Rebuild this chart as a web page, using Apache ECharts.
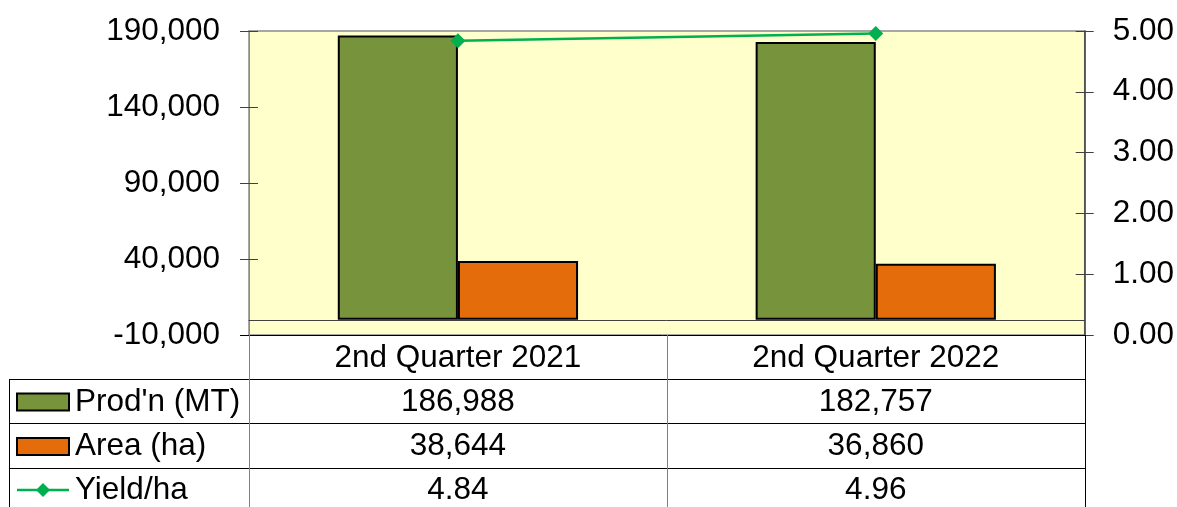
<!DOCTYPE html>
<html>
<head>
<meta charset="utf-8">
<script src="https://cdn.jsdelivr.net/npm/echarts@6/dist/echarts.min.js"></script>
<style>
html,body{margin:0;padding:0;background:#fff;}
#chart{width:1177px;height:507px;}
</style>
</head>
<body>
<div id="chart"></div>
<script>
var categories = ['2nd Quarter 2021', '2nd Quarter 2022'];
var prodn = [186988, 182757];
var area = [38644, 36860];
var yieldHa = [4.84, 4.96];
var seriesNames = ["Prod'n (MT)", 'Area (ha)', 'Yield/ha'];
var leftTicks = [-10000, 40000, 90000, 140000, 190000];
var rightTicks = [0, 1, 2, 3, 4, 5];

var FONT = "'Liberation Sans', Arial, sans-serif";
var FS = 31.5;
var GREEN = '#77933C', ORANGE = '#E46C0A', LINE = '#00B050';
var G = {left: 249, right: 92, top: 31, bottom: 172};
var W = 1177, H = 507;
var plotRight = W - G.right, plotBottom = H - G.bottom;

var chart = echarts.init(document.getElementById('chart'), null, {renderer: 'canvas'});

function fmtLeft(v){ return Number(v).toLocaleString('en-US'); }

var option = {
  animation: false,
  textStyle: {fontFamily: FONT},
  grid: {left: G.left, right: G.right, top: G.top, bottom: G.bottom, show: true,
         backgroundColor: '#FFFFCC', borderColor: '#8a8a8a', borderWidth: 1.5},
  xAxis: {
    type: 'category', data: categories,
    axisLabel: {show: false}, axisTick: {show: false},
    axisLine: {show: true, onZero: true, onZeroAxisIndex: 0, lineStyle: {color: '#404040', width: 1}},
    splitLine: {show: false}
  },
  yAxis: [
    {type: 'value', position: 'left', min: leftTicks[0], max: leftTicks[leftTicks.length-1],
     axisLine: {show: true, lineStyle: {color: '#8a8a8a', width: 1}},
     axisTick: {show: true, length: 9, customValues: leftTicks, lineStyle: {color: '#404040'}},
     axisLabel: {show: true, margin: 29, customValues: leftTicks, formatter: fmtLeft,
                 color: '#000', fontSize: FS, fontFamily: FONT},
     splitLine: {show: false}},
    {type: 'value', position: 'right', min: rightTicks[0], max: rightTicks[rightTicks.length-1], interval: 1,
     axisLine: {show: true, lineStyle: {color: '#404040', width: 1.5}},
     axisTick: {show: true, length: 9, lineStyle: {color: '#404040'}},
     axisLabel: {show: true, margin: 28, formatter: function(v){return Number(v).toFixed(2);},
                 color: '#000', fontSize: FS, fontFamily: FONT},
     splitLine: {show: false}},
    {type: 'value', position: 'left', min: leftTicks[0], max: leftTicks[leftTicks.length-1],
     axisLine: {show: false}, axisLabel: {show: false}, splitLine: {show: false},
     axisTick: {show: true, inside: true, length: 9, customValues: leftTicks, lineStyle: {color: '#404040'}}},
    {type: 'value', position: 'right', min: rightTicks[0], max: rightTicks[rightTicks.length-1], interval: 1,
     axisLine: {show: false}, axisLabel: {show: false}, splitLine: {show: false},
     axisTick: {show: true, inside: true, length: 9, lineStyle: {color: '#404040'}}}
  ],
  series: [
    {name: seriesNames[0], type: 'bar', yAxisIndex: 0, data: prodn, barGap: '0%', barCategoryGap: '42.5%',
     itemStyle: {color: GREEN, borderColor: '#000', borderWidth: 2}},
    {name: seriesNames[1], type: 'bar', yAxisIndex: 0, data: area, barGap: '0%', barCategoryGap: '42.5%',
     itemStyle: {color: ORANGE, borderColor: '#000', borderWidth: 2}},
    {name: seriesNames[2], type: 'line', yAxisIndex: 1, data: yieldHa, z: 5,
     symbol: 'diamond', symbolSize: 15, lineStyle: {color: LINE, width: 2.5},
     itemStyle: {color: LINE}}
  ]
};
chart.setOption(option);

// data table below the plot
var catX = categories.map(function(c){ return chart.convertToPixel({xAxisIndex: 0}, c); });
var midX = (catX[0] + catX[1]) / 2;
var rowY = [plotBottom, 379, 423, 468, H + 40];
var tableLeft = 9;
var g = [];
function hline(x1, x2, y, color){ g.push({type:'line', shape:{x1:x1,y1:y,x2:x2,y2:y}, style:{stroke:color||'#000', lineWidth:1}, z:100}); }
function vline(x, y1, y2, color){ g.push({type:'line', shape:{x1:x,y1:y1,x2:x,y2:y2}, style:{stroke:color||'#000', lineWidth:1}, z:100}); }
function txt(s, x, y, align){ g.push({type:'text', x:x, y:y, style:{text:s, fill:'#000', font: FS+'px '+FONT, align:align||'center', verticalAlign:'middle'}, z:101}); }

hline(240, plotRight, plotBottom + 0.5, '#000');
for (var i = 1; i < 4; i++) hline(tableLeft, plotRight, rowY[i] + 0.5, '#000');
vline(G.left + 0.5, plotBottom, H, '#808080');
vline(Math.round(midX) + 0.5, plotBottom, H, '#808080');
vline(plotRight + 0.5, plotBottom, H, '#000');
vline(tableLeft + 0.5, rowY[1], H, '#000');

categories.forEach(function(c, i){ txt(c, catX[i], (rowY[0] + rowY[1]) / 2 + 1); });
var rows = [
  prodn.map(fmtLeft),
  area.map(fmtLeft),
  yieldHa.map(function(v){ return v.toFixed(2); })
];
for (var r = 0; r < 3; r++) {
  var cy = r < 2 ? (rowY[r+1] + rowY[r+2]) / 2 + 1 : 490;
  rows[r].forEach(function(s, i){ txt(s, catX[i], cy); });
  txt(seriesNames[r], 75, cy, 'left');
  if (r < 2) {
    g.push({type:'rect', shape:{x:17, y:cy-8.5, width:52, height:17},
            style:{fill: r === 0 ? GREEN : ORANGE, stroke:'#000', lineWidth:2}, z:101});
  } else {
    g.push({type:'line', shape:{x1:17,y1:cy,x2:69,y2:cy}, style:{stroke:LINE, lineWidth:2.5}, z:101});
    g.push({type:'polygon', shape:{points:[[43,cy-7],[50,cy],[43,cy+7],[36,cy]]}, style:{fill:LINE}, z:102});
  }
}
chart.setOption({graphic: g});
</script>
</body>
</html>
